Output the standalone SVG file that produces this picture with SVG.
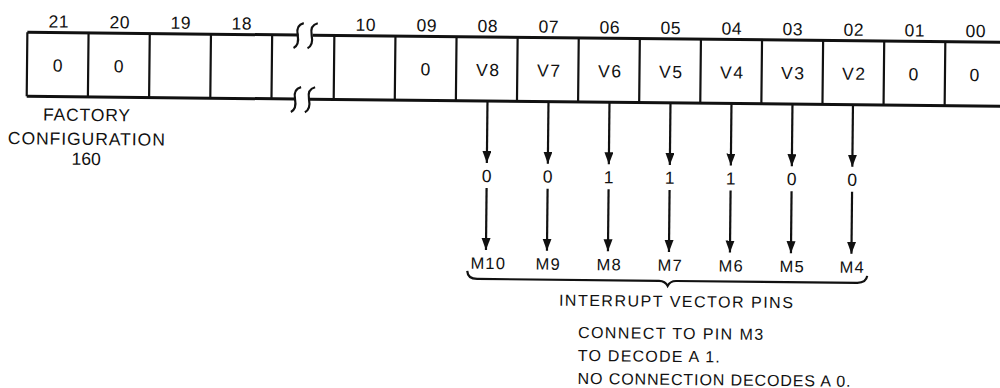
<svg xmlns="http://www.w3.org/2000/svg" width="1000" height="388" viewBox="0 0 1000 388">
<style>
  text { font-family: "Liberation Sans", Arial, sans-serif; fill: #111; }
  .num { font-size: 17.5px; text-anchor: middle; letter-spacing: 0.5px; }
  .val { font-size: 17.5px; text-anchor: middle; letter-spacing: 1.5px; }
  .bit { font-size: 17.5px; text-anchor: middle; }
  .pin { font-size: 16.5px; text-anchor: middle; letter-spacing: 1.2px; }
  .lbl { font-size: 17.5px; text-anchor: middle; }
  .note { font-size: 16px; }
  .hline { stroke: #111; stroke-width: 3; fill: none; }
  .div { stroke: #111; stroke-width: 2.2; fill: none; }
  .brk { stroke: #111; stroke-width: 2.2; fill: none; }
  .conn { stroke: #111; stroke-width: 2.2; fill: none; }
  .brace { stroke: #111; stroke-width: 2.2; fill: none; }
</style>
<defs>
  <marker id="ah" markerUnits="userSpaceOnUse" markerWidth="13" markerHeight="10" refX="12" refY="4.5" orient="auto">
    <path d="M0,0 L12,4.5 L0,9 z" fill="#111"/>
  </marker>
</defs>
<rect x="0" y="0" width="1000" height="388" fill="#fff"/>
<g transform="rotate(0.59)">
  <g id="register">
    <path class="hline" d="M27.7,32 H299 M313,32 H1012 M27.7,96 H297 M311,96 H1012"/>
    <path class="div" d="M27.7,32 V96 M88.9,32 V96 M150.1,32 V96 M211.3,32 V96 M272.5,32 V96"/>
    <path class="div" d="M334.7,32 V96 M395.8,32 V96 M456.9,32 V96 M518,32 V96 M579.1,32 V96 M640.2,32 V96 M701.3,32 V96 M762.4,32 V96 M823.5,32 V96 M884.6,32 V96 M945.7,32 V96"/>
    <g id="break-marks">
      <path class="brk" d="M304,20 Q296,22 298,32 Q300,42 294,45"/>
      <path class="brk" d="M318,20 Q310,22 312,32 Q314,42 308,45"/>
      <path class="brk" d="M302,84 Q294,86 296,96 Q298,106 292,109"/>
      <path class="brk" d="M316,84 Q308,86 310,96 Q312,106 306,109"/>
    </g>
  </g>
  <g id="bit21"><text class="num" x="59" y="27">21</text><text class="val" x="59" y="71">0</text></g>
  <g id="bit20"><text class="num" x="120" y="27">20</text><text class="val" x="120" y="71">0</text></g>
  <g id="bit19"><text class="num" x="181" y="27">19</text></g>
  <g id="bit18"><text class="num" x="242" y="27">18</text></g>
  <g id="bit10"><text class="num" x="366" y="27">10</text></g>
  <g id="bit09"><text class="num" x="427" y="27">09</text><text class="val" x="427" y="71">0</text></g>
  <g id="bit08"><text class="num" x="488" y="27">08</text><text class="val" x="489" y="71">V8</text></g>
  <g id="bit07"><text class="num" x="549" y="27">07</text><text class="val" x="550" y="71">V7</text></g>
  <g id="bit06"><text class="num" x="610" y="27">06</text><text class="val" x="611" y="71">V6</text></g>
  <g id="bit05"><text class="num" x="671" y="27">05</text><text class="val" x="672" y="71">V5</text></g>
  <g id="bit04"><text class="num" x="732" y="27">04</text><text class="val" x="733" y="71">V4</text></g>
  <g id="bit03"><text class="num" x="793" y="27">03</text><text class="val" x="794" y="71">V3</text></g>
  <g id="bit02"><text class="num" x="854" y="27">02</text><text class="val" x="855" y="71">V2</text></g>
  <g id="bit01"><text class="num" x="915" y="27">01</text><text class="val" x="915" y="71">0</text></g>
  <g id="bit00"><text class="num" x="976" y="27">00</text><text class="val" x="976" y="71">0</text></g>

  <g id="factory-config">
    <text class="lbl" x="87.8" y="120" textLength="87" lengthAdjust="spacing">FACTORY</text>
    <text class="lbl" x="87.8" y="144" textLength="157" lengthAdjust="spacing">CONFIGURATION</text>
    <text class="lbl" x="87.8" y="164">160</text>
  </g>

  <g id="connectors">
    <path class="conn" marker-end="url(#ah)" d="M488.5,96 V158"/><path class="conn" marker-end="url(#ah)" d="M488.5,183 V245"/>
    <path class="conn" marker-end="url(#ah)" d="M549.5,96 V158"/><path class="conn" marker-end="url(#ah)" d="M549.5,183 V245"/>
    <path class="conn" marker-end="url(#ah)" d="M610.5,96 V158"/><path class="conn" marker-end="url(#ah)" d="M610.5,183 V245"/>
    <path class="conn" marker-end="url(#ah)" d="M671.5,96 V158"/><path class="conn" marker-end="url(#ah)" d="M671.5,183 V245"/>
    <path class="conn" marker-end="url(#ah)" d="M732.5,96 V158"/><path class="conn" marker-end="url(#ah)" d="M732.5,183 V245"/>
    <path class="conn" marker-end="url(#ah)" d="M793.5,96 V158"/><path class="conn" marker-end="url(#ah)" d="M793.5,183 V245"/>
    <path class="conn" marker-end="url(#ah)" d="M854,96 V158"/><path class="conn" marker-end="url(#ah)" d="M854,183 V245"/>
  </g>

  <g id="pin-M10"><text class="bit" x="488.5" y="177">0</text><text class="pin" x="491" y="264">M10</text></g>
  <g id="pin-M9"><text class="bit" x="549.5" y="177">0</text><text class="pin" x="551" y="264">M9</text></g>
  <g id="pin-M8"><text class="bit" x="610.5" y="177">1</text><text class="pin" x="612" y="264">M8</text></g>
  <g id="pin-M7"><text class="bit" x="671.5" y="177">1</text><text class="pin" x="673" y="264">M7</text></g>
  <g id="pin-M6"><text class="bit" x="732.5" y="177">1</text><text class="pin" x="734" y="264">M6</text></g>
  <g id="pin-M5"><text class="bit" x="793.5" y="177">0</text><text class="pin" x="795" y="264">M5</text></g>
  <g id="pin-M4"><text class="bit" x="854" y="177">0</text><text class="pin" x="855" y="264">M4</text></g>

  <g id="interrupt-vector-pins">
    <path class="brace" d="M470,266 Q470.5,274 480,274 L662,274 Q668,274 670.5,279 Q673,274 679,274 L860,274 Q869,274 870,267"/>
    <text class="note" x="679" y="300" text-anchor="middle" textLength="234" lengthAdjust="spacing">INTERRUPT VECTOR PINS</text>
  </g>

  <g id="note">
    <text class="note" x="581.5" y="332" textLength="185" lengthAdjust="spacing">CONNECT TO PIN M3</text>
    <text class="note" x="581.5" y="355" textLength="142" lengthAdjust="spacing">TO DECODE A 1.</text>
    <text class="note" x="581.5" y="378" textLength="273" lengthAdjust="spacing">NO CONNECTION DECODES A 0.</text>
  </g>
</g>
</svg>
